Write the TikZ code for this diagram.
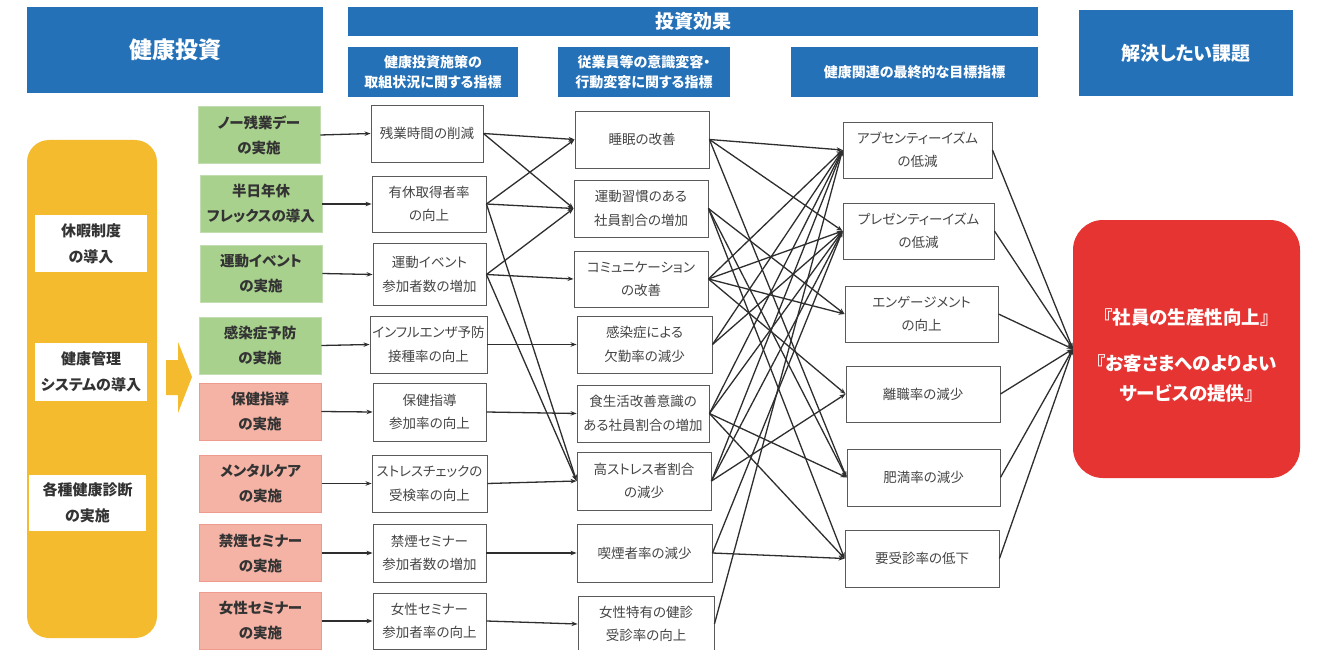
\documentclass[tikz,border=0pt]{standalone}
\usepackage{fontspec}
\setmainfont{Noto Sans CJK JP}[RawFeature=+palt]
\usetikzlibrary{arrows.meta}
\definecolor{hblue}{HTML}{2471B8}
\definecolor{yfill}{HTML}{F4BB2E}
\definecolor{gfill}{HTML}{A9D18E}
\definecolor{gline}{HTML}{C2DEB0}
\definecolor{pfill}{HTML}{F4B3A5}
\definecolor{pline}{HTML}{EE9A8C}
\definecolor{rfill}{HTML}{E53432}
\definecolor{tdark}{HTML}{333333}
\definecolor{tgray}{HTML}{454545}
\definecolor{bline}{HTML}{5A5A5A}
\definecolor{cline}{HTML}{2E2E2E}
\tikzset{
  hdr/.style={fill=hblue, text=white, align=center, inner sep=0pt, font=\bfseries},
  hsub/.style={hdr, font=\bfseries\fontsize{14}{20}\selectfont},
  actbox/.style={align=center, inner sep=0pt, text=tdark, line width=0.8pt,
     minimum width=122pt, minimum height=57pt, font=\bfseries\fontsize{14.5}{25}\selectfont},
  gbox/.style={actbox, fill=gfill, draw=gline},
  pbox/.style={actbox, fill=pfill, draw=pline},
  wbox/.style={draw=bline, fill=white, line width=0.9pt, align=center, inner sep=0pt,
     text=tgray, font=\fontsize{13.5}{23.5}\selectfont},
  ylab/.style={fill=white, align=center, inner sep=0pt, text=tdark,
     font=\bfseries\fontsize{15}{26}\selectfont},
  conn/.style={draw=cline, line width=1.3pt, -{Stealth[length=6pt,width=4.5pt]}},
}
\begin{document}
\begin{tikzpicture}[x=1pt,y=-1pt]
\useasboundingbox (0,0) rectangle (1317,650);
\fill[white] (0,0) rectangle (1317,650);

% headers
\node[hdr, minimum width=296pt, minimum height=86pt, font=\bfseries\fontsize{23}{28}\selectfont] (hInv) at (175,50) {健康投資};
\node[hdr, minimum width=690pt, minimum height=29pt, font=\bfseries\fontsize{19}{24}\selectfont] (hEff) at (693,21.5) {投資効果};
\node[hsub, minimum width=170pt, minimum height=50pt] (hS1) at (433,72) {健康投資施策の\\取組状況に関する指標};
\node[hsub, minimum width=172pt, minimum height=50pt] (hS2) at (644,72) {従業員等の意識変容・\\行動変容に関する指標};
\node[hsub, minimum width=247pt, minimum height=50pt] (hS3) at (914.5,72) {健康関連の最終的な目標指標};
\node[hdr, minimum width=214pt, minimum height=86pt, font=\bfseries\fontsize{19}{24}\selectfont] (hGoal) at (1186,53) {解決したい課題};

% yellow block
\node[fill=yfill, rounded corners=22pt, minimum width=130pt, minimum height=498pt, inner sep=0pt] (Y) at (92,389) {};
\node[ylab, minimum width=112pt, minimum height=57pt] (L1) at (91,243.5) {休暇制度\\の導入};
\node[ylab, minimum width=112pt, minimum height=58pt] (L2) at (91,372) {健康管理\\システムの導入};
\node[ylab, minimum width=117pt, minimum height=56pt] (L3) at (87.5,503) {各種健康診断\\の実施};
\fill[yfill] (166,360) -- (178,360) -- (178,342) -- (192,377) -- (178,413) -- (178,395) -- (166,395) -- cycle;

% measures
\node[gbox] (G1) at (259,135) {ノー残業デー\\の実施};
\node[gbox] (G2) at (261,204) {半日年休\\フレックスの導入};
\node[gbox] (G3) at (261,273.5) {運動イベント\\の実施};
\node[gbox] (G4) at (260,345.5) {感染症予防\\の実施};
\node[pbox] (P1) at (260,411.5) {保健指導\\の実施};
\node[pbox] (P2) at (260.5,483.5) {メンタルケア\\の実施};
\node[pbox] (P3) at (260.5,553) {禁煙セミナー\\の実施};
\node[pbox] (P4) at (260.5,621) {女性セミナー\\の実施};

% column 2
\node[wbox, minimum width=112pt, minimum height=57pt] (A1) at (427,133.5) {残業時間の削減};
\node[wbox, minimum width=114pt, minimum height=56pt] (A2) at (429,204) {有休取得者率\\の向上};
\node[wbox, minimum width=113pt, minimum height=62pt] (A3) at (429.5,274.5) {運動イベント\\参加者数の増加};
\node[wbox, minimum width=117pt, minimum height=57pt] (A4) at (428.5,344.5) {インフルエンザ予防\\接種率の向上};
\node[wbox, minimum width=113pt, minimum height=58pt] (B1) at (429.5,412) {保健指導\\参加率の向上};
\node[wbox, minimum width=115pt, minimum height=57pt] (B2) at (429.5,483.5) {ストレスチェックの\\受検率の向上};
\node[wbox, minimum width=113pt, minimum height=58pt] (B3) at (429.5,553) {禁煙セミナー\\参加者数の増加};
\node[wbox, minimum width=113pt, minimum height=56pt] (B4) at (429.5,621) {女性セミナー\\参加者率の向上};

% column 3
\node[wbox, minimum width=134pt, minimum height=57pt] (M1) at (642,139.5) {睡眠の改善};
\node[wbox, minimum width=134pt, minimum height=57pt] (M2) at (641,208.5) {運動習慣のある\\社員割合の増加};
\node[wbox, minimum width=134pt, minimum height=56pt] (M3) at (641,279) {コミュニケーション\\の改善};
\node[wbox, minimum width=135pt, minimum height=57pt] (M4) at (644.5,344.5) {感染症による\\欠勤率の減少};
\node[wbox, minimum width=132pt, minimum height=57pt] (M5) at (643,413.5) {食生活改善意識の\\ある社員割合の増加};
\node[wbox, minimum width=134pt, minimum height=58pt] (M6) at (644,481) {高ストレス者割合\\の減少};
\node[wbox, minimum width=135pt, minimum height=58pt] (M7) at (644.5,553) {喫煙者率の減少};
\node[wbox, minimum width=136pt, minimum height=56pt] (M8) at (646,624) {女性特有の健診\\受診率の向上};

% column 4
\node[wbox, minimum width=149pt, minimum height=56pt] (O1) at (917.5,150) {アブセンティーイズム\\の低減};
\node[wbox, minimum width=151pt, minimum height=56pt] (O2) at (918.5,231) {プレゼンティーイズム\\の低減};
\node[wbox, minimum width=153pt, minimum height=56pt] (O3) at (921.5,314) {エンゲージメント\\の向上};
\node[wbox, minimum width=154pt, minimum height=56pt] (O4) at (923,394) {離職率の減少};
\node[wbox, minimum width=153pt, minimum height=57pt] (O5) at (923.5,477.5) {肥満率の減少};
\node[wbox, minimum width=154pt, minimum height=57pt] (O6) at (922,558.5) {要受診率の低下};

% goal
\node[fill=rfill, rounded corners=30pt, minimum width=227pt, minimum height=258pt, inner sep=0pt] (R) at (1186.5,349) {};
\node[align=center, inner sep=0pt, text=white, font=\bfseries\fontsize{18.5}{30}\selectfont] (RT) at (1186.5,355) {『社員の生産性向上』\\[16pt]『お客さまへのよりよい\\サービスの提供』};

% connectors: measures -> column 2
\foreach \s/\t in {G1/A1,G2/A2,G3/A3,G4/A4,P1/B1,P2/B2,P3/B3,P4/B4}
  \draw[conn] (\s.east) -- (\t.west);
% column 2 -> column 3
\foreach \s/\t in {A1/M1,A1/M2,A2/M1,A2/M2,A2/M6,A3/M2,A3/M3,A3/M6,A4/M4,B1/M5,B2/M6,B3/M7,B4/M8}
  \draw[conn] (\s.east) -- (\t.west);
% column 3 -> column 4
\foreach \s/\t in {M1/O1,M1/O2,M1/O5,M2/O3,M2/O5,M2/O6,M3/O1,M3/O2,M3/O3,M3/O4,M4/O1,M4/O2,M5/O1,M5/O2,M5/O5,M5/O6,M6/O1,M6/O2,M6/O4,M7/O2,M7/O6,M8/O1}
  \draw[conn] (\s.east) -- (\t.west);
% column 4 -> goal
\foreach \s in {O1,O2,O3,O4,O5,O6}
  \draw[conn] (\s.east) -- (R.west);
\end{tikzpicture}
\end{document}
